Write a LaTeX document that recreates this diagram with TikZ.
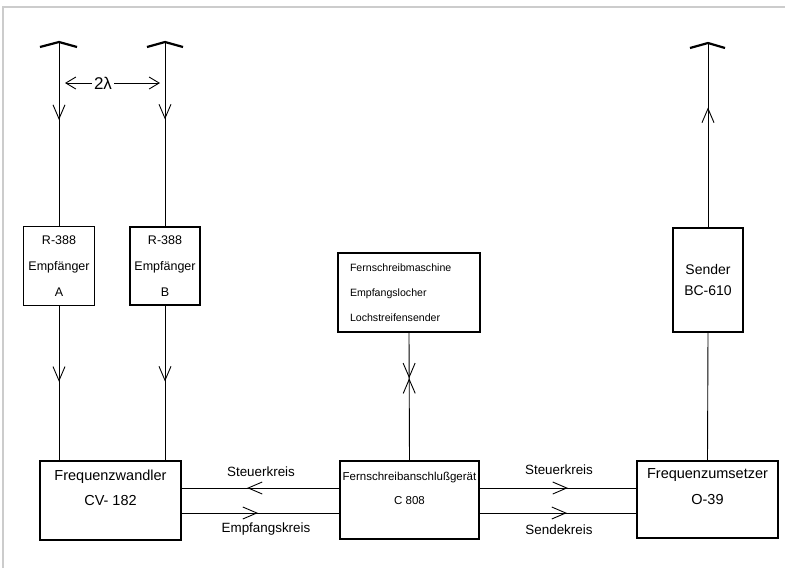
\documentclass[tikz,border=0pt]{standalone}
\usepackage{fontspec}
\setmainfont{Liberation Sans}
\usetikzlibrary{arrows.meta,decorations.markings}

\begin{document}
\begin{tikzpicture}[x=1pt,y=-1pt,
        kasten/.style={draw,line width=1.4pt,inner sep=0pt,align=center},
        leitung/.style={line width=0.9pt},
        antenne/.style={line width=2.2pt},
        spitze/.style={postaction=decorate,decoration={markings,
            mark=at position #1 with {\arrow{Straight Barb[length=14pt,width=12pt]}}}},
        doppel/.style={postaction=decorate,decoration={markings,
            mark=at position #1 with {\arrow{Straight Barb[length=14pt,width=12pt]}},
            mark=at position #1 with {\arrowreversed{Straight Barb[length=14pt,width=12pt]}}}}]
        \useasboundingbox (0,0) rectangle (785,568);
        \draw[black!20,line width=1.5pt] (3,568) -- (3,7) -- (785,7);
        %% antennen
        \coordinate (antA) at (59,42);
        \coordinate (antB) at (165,42);
        \coordinate (antS) at (708,43);
        \draw[antenne] ([shift={(-19,5)}]antA) -- (antA) -- ([shift={(18,5)}]antA);
        \draw[antenne] ([shift={(-18,5)}]antB) -- (antB) -- ([shift={(18,5)}]antB);
        \draw[antenne] ([shift={(-18,5)}]antS) -- (antS) -- ([shift={(17,5)}]antS);
        \node[font=\fontsize{17}{20}\selectfont,inner xsep=2pt] (abstand) at (103,83) {2λ};
        \draw[leitung,-{Straight Barb[length=10pt,width=12pt]}] (abstand.west) -- ([xshift=6pt]abstand.west -| antA);
        \draw[leitung,-{Straight Barb[length=10pt,width=12pt]}] (abstand.east) -- ([xshift=-5pt]abstand.east -| antB);
        %% empfaenger und sender
        \node[kasten,minimum width=71pt,minimum height=79pt,font=\fontsize{12.5}{26}\selectfont] (empfA) at (59,266) {R-388\\Empfänger\\A};
        \node[kasten,minimum width=70pt,minimum height=78pt,font=\fontsize{12.5}{26}\selectfont] (empfB) at (165,266) {R-388\\Empfänger\\B};
        \node[kasten,minimum width=70pt,minimum height=104pt,font=\fontsize{14}{21}\selectfont] (sender) at (708,280) {Sender\\BC-610};
        \node[kasten,align=left,text width=118pt,inner xsep=12pt,minimum height=79pt,font=\fontsize{10.6}{25}\selectfont] (fsm) at (409,292.5) {Fernschreibmaschine\\Empfangslocher\\Lochstreifensender};
        %% untere reihe
        \node[kasten,minimum width=141pt,minimum height=79pt,font=\fontsize{14.5}{25}\selectfont] (fw) at (110.5,500.5) {Frequenzwandler\\CV- 182\\\mbox{}};
        \node[kasten,minimum width=139pt,minimum height=78pt,font=\fontsize{11.5}{24}\selectfont] (c808) at (409.5,500) {Fernschreibanschlußgerät\\C 808\\\mbox{}};
        \node[kasten,minimum width=141pt,minimum height=77pt,font=\fontsize{14.5}{26}\selectfont] (fu) at (707.5,499.5) {Frequenzumsetzer\\O-39\\\mbox{}};
        %% verbindungen
        \draw[leitung,spitze=0.424] (antA) -- (empfA.north);
        \draw[leitung,spitze=0.42] (antB) -- (empfB.north);
        \draw[leitung,spitze=0.49] (empfA.south) -- (empfA.south |- fw.north);
        \draw[leitung,spitze=0.49] (empfB.south) -- (empfB.south |- fw.north);
        \draw[leitung,spitze=0.65] (sender.north) -- (antS);
        \draw[leitung] (sender.south) -- (fu.north);
        \draw[leitung,doppel=0.357] (fsm.south) -- (c808.north);
        \draw[leitung,spitze=0.585] ([yshift=12pt]c808.west) -- ([yshift=12pt]c808.west -| fw.east);
        \draw[leitung,spitze=0.484] ([yshift=-13pt]c808.west -| fw.east) -- ([yshift=-13pt]c808.west);
        \draw[leitung,spitze=0.563] ([yshift=12pt]c808.east) -- ([yshift=12pt]c808.east -| fu.west);
        \draw[leitung,spitze=0.557] ([yshift=-13pt]c808.east) -- ([yshift=-13pt]c808.east -| fu.west);
        %% beschriftung
        \node[font=\fontsize{13.4}{16}\selectfont] (steuerL) at (261,472) {Steuerkreis};
        \node[font=\fontsize{13.4}{16}\selectfont] (empfK) at (266,529) {Empfangskreis};
        \node[font=\fontsize{13.4}{16}\selectfont] (steuerR) at (559,470) {Steuerkreis};
        \node[font=\fontsize{13.4}{16}\selectfont] (sendeK) at (559,530) {Sendekreis};
    \end{tikzpicture}
\end{document}
